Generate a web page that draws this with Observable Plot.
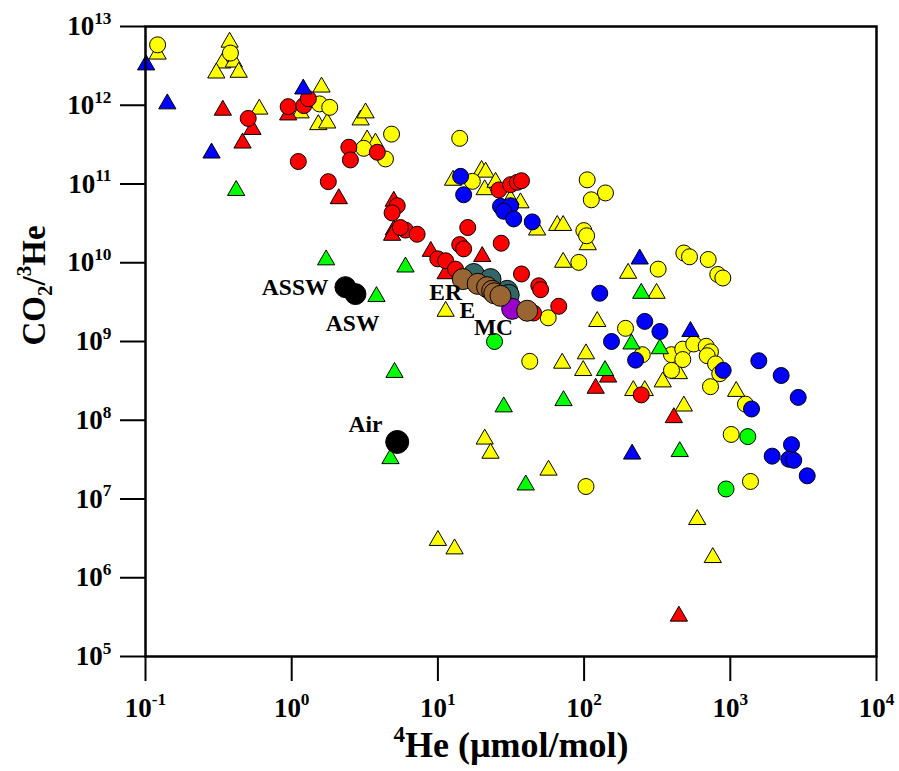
<!DOCTYPE html>
<html>
<head>
<meta charset="utf-8">
<script src="https://cdn.jsdelivr.net/npm/d3@7"></script>
<script src="https://cdn.jsdelivr.net/npm/@observablehq/plot@0.6"></script>
<style>
  html, body { margin: 0; padding: 0; background: #ffffff; }
  #chart svg { display: block; }
</style>
</head>
<body>
<div id="chart"></div>
<script>
// ---- Data: [4He (umol/mol), CO2/3He] ----
const yellowTriangles = [
  [0.121,4.8e12],[0.376,6.8e12],[0.335,3.7e12],[0.402,3.8e12],[0.305,2.76e12],[0.434,2.82e12],
  [0.60,9.6e11],[1.60,1.83e12],[1.52,6.1e11],[1.75,6.4e11],[1.15,8.6e11],[2.96,7.0e11],[3.20,8.6e11],
  [3.28,3.9e11],[3.74,3.56e11],[12.7,1.2e11],[19.9,1.6e11],[21.2,1.52e11],[20.9,9.1e10],[24.8,1.13e11],
  [36.7,6.2e10],[31.4,6.8e10],[65.5,3.2e10],[71.9,3.2e10],[47.7,2.8e10],[106,1.82e10],[71.9,1.09e10],
  [11.3,2.6e9],[123,1.93e9],[313,4.4e9],[200,7.9e9],[103,7.5e8],[70.8,5.7e8],[98.6,4.6e8],[345,3.3e8],
  [445,4.2e8],[217,2.56e8],[260,2.56e8],[481,1.63e8],[1097,2.5e8],[594,5.9e6],[759,1.94e6],
  [20.9,6.2e7],[22.9,4.1e7],[57.1,2.5e7],[10.0,3.2e6],[13.0,2.5e6]
];
const yellowCircles = [
  [0.121,5.85e12],[0.381,4.6e12],[1.55,1.04e12],[1.82,9.4e11],[3.11,2.84e11],[4.38,2.08e11],[4.82,4.3e11],
  [14.1,3.8e11],[17.2,1.08e11],[105,1.13e11],[140,7.7e10],[112,6.3e10],[99.6,2.56e10],[104,2.2e10],
  [92,1.01e10],[321,8.3e9],[481,1.33e10],[526,1.19e10],[706,1.1e10],[821,7.1e9],[889,6.4e9],[56.8,2.0e9],
  [192,1.47e9],[250,6.8e8],[396,6.8e8],[473,8.0e8],[473,5.9e8],[562,9.3e8],[684,8.7e8],[732,7.4e8],
  [695,6.6e8],[793,5.2e8],[396,4.3e8],[847,3.9e8],[732,2.67e8],[1270,1.6e8],[1014,6.6e7],[1374,1.67e7],
  [103,1.44e7],[42.5,5.6e8]
];
const redTriangles = [
  [0.338,9.3e11],[0.539,5.3e11],[0.461,3.56e11],[0.946,8.1e11],[2.10,7.0e10],[4.99,6.5e10],[4.99,2.8e10],
  [4.86,2.4e10],[8.94,1.5e10],[20.1,1.29e10],[11.3,7.8e9],[146,3.8e8],[120,2.74e8],[411,1.16e8],[445,3.5e5]
];
const redCircles = [
  [0.504,6.8e11],[0.946,9.6e11],[1.21,9.9e11],[1.30,1.21e12],[1.11,1.93e11],[1.78,1.07e11],[2.46,2.93e11],
  [2.52,2.02e11],[3.85,2.53e11],[5.27,5.3e10],[4.86,4.3e10],[6.00,2.6e10],[7.21,2.3e10],[5.54,2.8e10],
  [16.0,2.8e10],[14.1,1.7e10],[15.0,1.5e10],[27.1,1.77e10],[9.98,1.12e10],[11.3,1.06e10],[13.2,8.3e9],
  [37.3,7.2e9],[49.0,5.1e9],[50.4,4.55e9],[67.1,2.8e9],[26.1,8.4e10],[31.4,9.8e10],[34.9,1.05e11],
  [37.3,1.1e11],[246,2.1e8],[45.1,2.3e9]
];
const greenTriangles = [
  [0.417,8.9e10],[1.72,1.17e10],[6.00,9.5e9],[3.80,4.0e9],[5.05,4.35e8],[4.74,3.5e7],[28.2,1.59e8],
  [39.9,1.62e7],[72.3,1.91e8],[139,4.6e8],[246,4.4e9],[211,1.0e9],[330,8.7e8],[451,4.3e7]
];
const blueTriangles = [
  [0.101,3.5e12],[0.141,1.12e12],[0.283,2.66e11],[1.20,1.73e12],[240,1.2e10],[534,1.44e9],[213,4.0e7]
];
const blueCircles = [
  [14.3,1.25e11],[15.0,7.3e10],[26.8,5.2e10],[31.4,5.3e10],[28.2,4.5e10],[33.0,3.6e10],[44.2,3.3e10],
  [128,4.1e9],[260,1.8e9],[330,1.34e9],[154,1.0e9],[225,5.8e8],[894,4.3e8],[1567,5.7e8],[2228,3.7e8],
  [2914,1.95e8],[1397,1.39e8],[2622,4.9e7],[1934,3.5e7],[2512,3.2e7],[2717,3.1e7],[3358,1.97e7]
];
const greenCircles = [[24.4,1.0e9],[1317,6.2e7],[935,1.34e7]];
const tealCircles = [[17.6,7.2e9],[22.9,6.2e9],[29.8,4.4e9],[30.5,3.9e9]];
const purpleCircles = [[32.2,2.6e9]];
const brownCircles = [[14.8,6.2e9],[18.7,5.4e9],[21.7,4.9e9],[23.5,4.4e9],[24.3,4.1e9],[26.8,3.8e9],[40.8,2.46e9]];
const seawaterCircles = [[2.33,4.9e9],[2.73,4.0e9]];   // ASSW, ASW
const airCircles = [[5.27,5.3e7]];                     // Air

// Point labels
const labelNames  = ["ASSW", "ASW", "Air", "ER", "E", "MC"];
const labelX      = [1.785, 2.61, 4.18, 11.3, 15.9, 24.0];
const labelY      = [4.83e9, 1.68e9, 8.77e7, 4.17e9, 2.46e9, 1.50e9];
const labelAnchor = ["end", "middle", "end", "middle", "middle", "middle"];

// Axes
const xTicks = [0.1, 1, 10, 100, 1000, 10000];
const xTickExp = ["-1", "0", "1", "2", "3", "4"];
const yTicks = [1e5, 1e6, 1e7, 1e8, 1e9, 1e10, 1e11, 1e12, 1e13];
const yTickExp = ["5", "6", "7", "8", "9", "10", "11", "12", "13"];
const xTitle = "^{4}He (µmol/mol)";
const yTitle = "CO_{2}/^{3}He";

// ---- Chart ----
const FONT = "'Liberation Serif', 'Times New Roman', 'DejaVu Serif', serif";
const dots = (data, fill, symbol, r) => Plot.dot(data, {
  x: d => d[0], y: d => d[1], fill, stroke: "#000", strokeWidth: 1, symbol, r,
  dy: symbol === "triangle" ? 2.5 : 0
});
const labels = labelNames.map((n, i) => ({n, x: labelX[i], y: labelY[i], a: labelAnchor[i]}));

const chart = Plot.plot({
  width: 899,
  height: 771,
  marginLeft: 145,
  marginRight: 23,
  marginTop: 26,
  marginBottom: 115,
  style: {fontFamily: FONT, fontWeight: "bold", background: "#ffffff", color: "#000"},
  x: {type: "log", domain: [0.1, 1e4]},
  y: {type: "log", domain: [1e5, 1e13]},
  marks: [
    dots(yellowTriangles, "#ffff00", "triangle", 6.4),
    dots(yellowCircles, "#ffff00", "circle", 8),
    dots(redTriangles, "#ff0000", "triangle", 6.4),
    dots(redCircles, "#ff0000", "circle", 8),
    dots(greenTriangles, "#00ff00", "triangle", 6.4),
    dots(blueTriangles, "#0000ff", "triangle", 6.4),
    dots(blueCircles, "#0000ff", "circle", 8),
    dots(greenCircles, "#00ff00", "circle", 8),
    dots(tealCircles, "#336666", "circle", 10.5),
    dots(purpleCircles, "#9900cc", "circle", 10.5),
    dots(brownCircles, "#996633", "circle", 10.5),
    dots(seawaterCircles, "#000000", "circle", 10.5),
    dots(airCircles, "#000000", "circle", 11.5),
    ...["end", "middle"].map(a => Plot.text(labels.filter(d => d.a === a), {
      x: "x", y: "y", text: "n", textAnchor: a, fontSize: 23.5, fontWeight: "bold", fill: "#000"
    })),
    Plot.axisX({
      ticks: xTicks, tickSize: 25, tickPadding: 16, fontSize: 27, strokeWidth: 2, label: null,
      tickFormat: d => "10^{" + xTickExp[xTicks.indexOf(d)] + "}"
    }),
    Plot.axisY({
      ticks: yTicks, tickSize: 25, tickPadding: 9, fontSize: 27, strokeWidth: 2, label: null,
      tickFormat: d => "10^{" + yTickExp[yTicks.indexOf(d)] + "}"
    }),
    Plot.text([xTitle], {frameAnchor: "bottom", dy: 89, fontSize: 36, fontWeight: "bold", lineAnchor: "middle", fill: "#000"}),
    Plot.text([yTitle], {frameAnchor: "left", dx: -111, dy: 4, rotate: -90, fontSize: 33, fontWeight: "bold", lineAnchor: "middle", fill: "#000"}),
    Plot.frame({stroke: "#000", strokeWidth: 2.5})
  ]
});
document.getElementById("chart").appendChild(chart);

// Rich text: ^{..} superscript, _{..} subscript
const NS = "http://www.w3.org/2000/svg";
chart.querySelectorAll("text").forEach(t => {
  const s = t.textContent;
  if (!/[\^_]\{/.test(s)) return;
  const fs = parseFloat(getComputedStyle(t).fontSize) || 16;
  const parts = [...s.matchAll(/\^\{([^}]*)\}|_\{([^}]*)\}|([^\^_]+)/g)];
  while (t.firstChild) t.removeChild(t.firstChild);
  let shift = 0;
  for (const m of parts) {
    const ts = document.createElementNS(NS, "tspan");
    let target = 0, size = null;
    if (m[1] !== undefined) { target = -0.42 * fs; size = 0.64 * fs; ts.textContent = m[1]; }
    else if (m[2] !== undefined) { target = 0.22 * fs; size = 0.64 * fs; ts.textContent = m[2]; }
    else { ts.textContent = m[3]; }
    if (target !== shift) ts.setAttribute("dy", (target - shift).toFixed(2));
    shift = target;
    if (size) ts.setAttribute("font-size", size.toFixed(1));
    t.appendChild(ts);
  }
});
</script>
</body>
</html>
